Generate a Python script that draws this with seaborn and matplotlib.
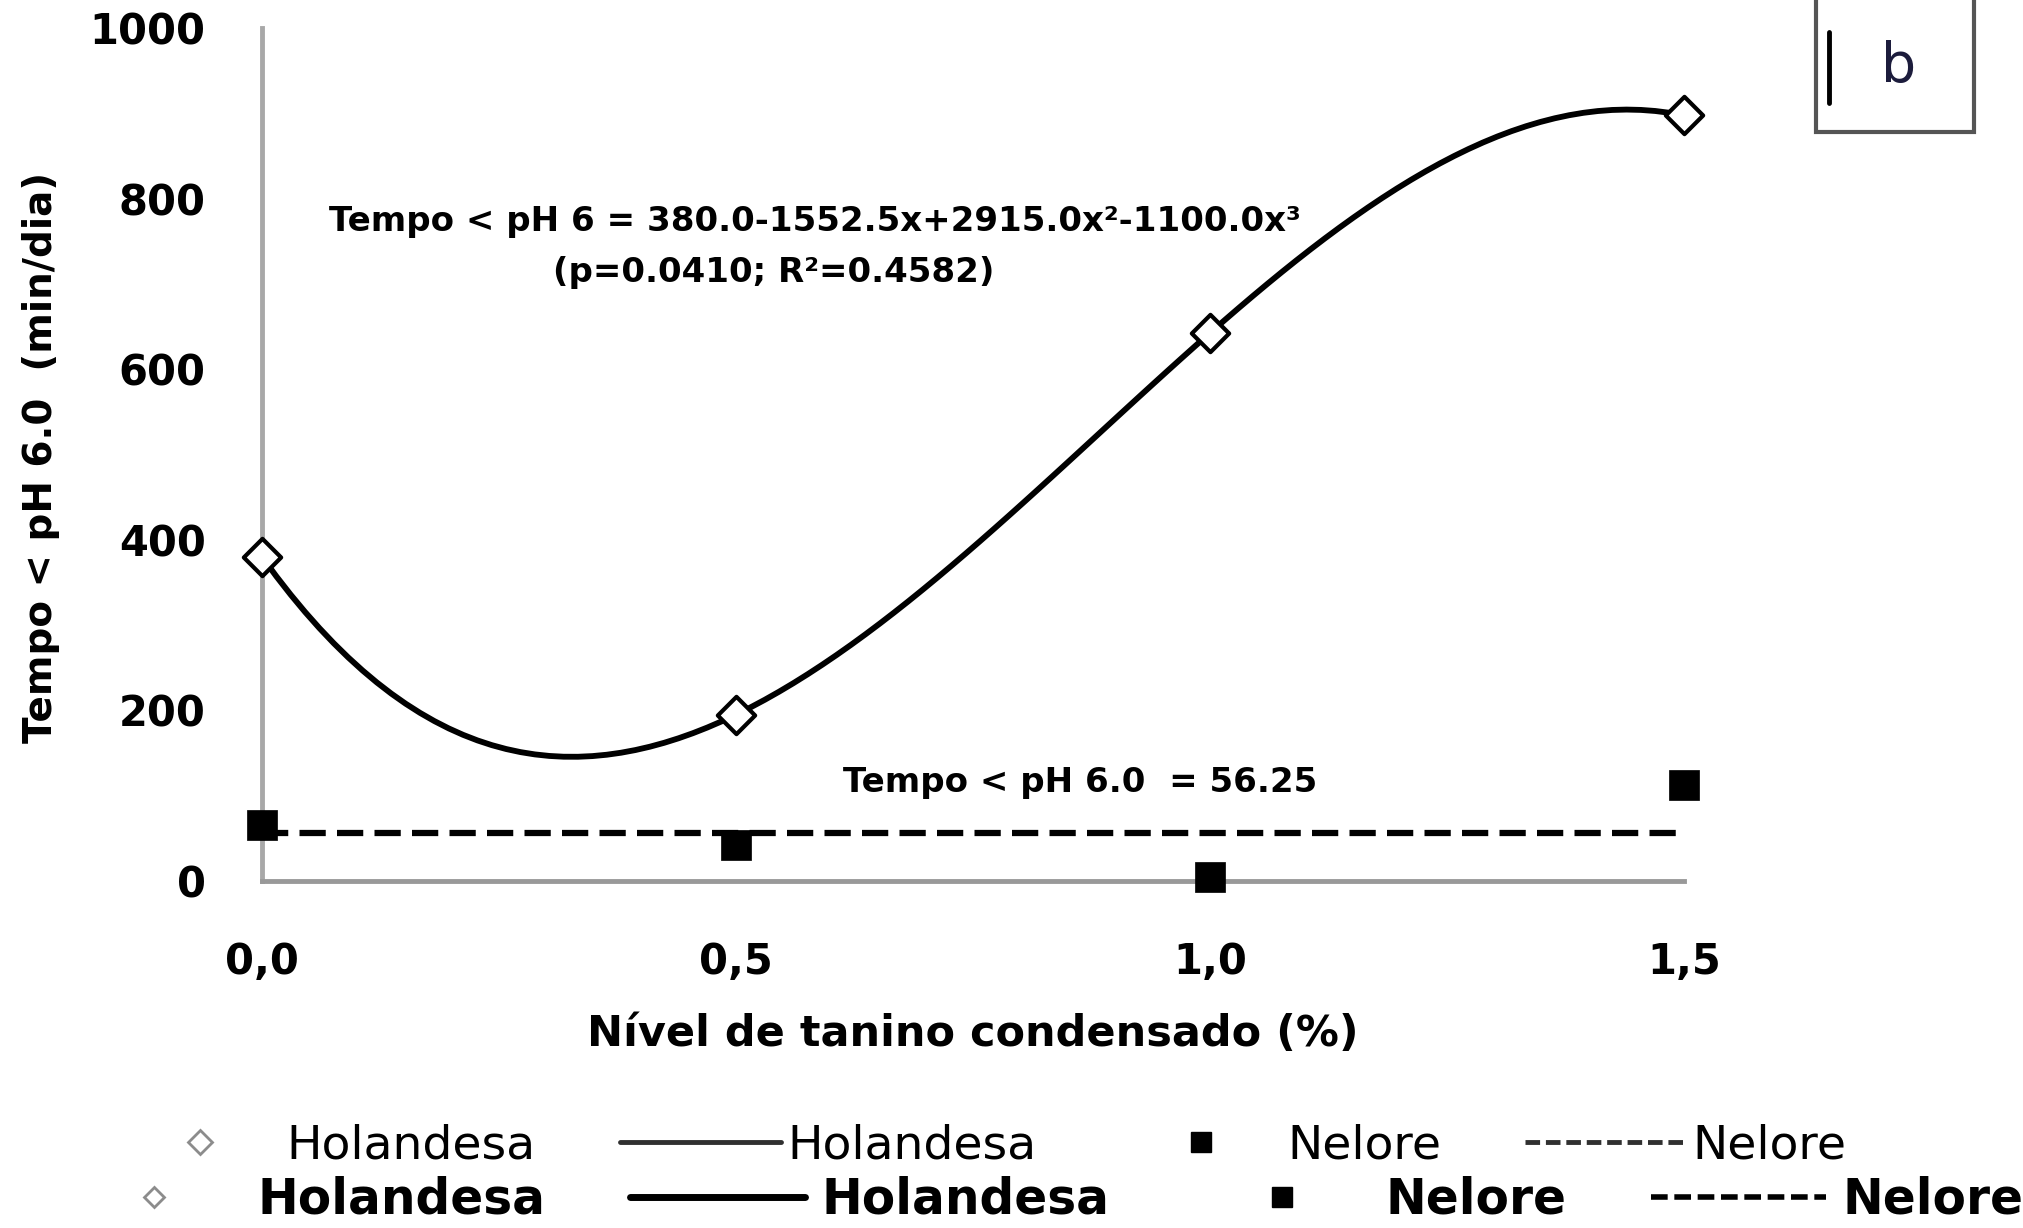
import numpy as np
import pandas as pd
import matplotlib
matplotlib.use('Agg')
import matplotlib.pyplot as plt
from matplotlib.lines import Line2D
from matplotlib.patches import Rectangle
import seaborn as sns

# ---------------- data ----------------
levels = [0.0, 0.5, 1.0, 1.5]
holandesa = [380.0, 195.0, 642.5, 897.5]
nelore = [66.0, 42.0, 5.0, 112.0]
nelore_mean = 56.25
x_ticks = [0.0, 0.5, 1.0, 1.5]
x_ticklabels = ['0,0', '0,5', '1,0', '1,5']
y_ticks = [0, 200, 400, 600, 800, 1000]
eq_holandesa = 'Tempo < pH 6 = 380.0-1552.5x+2915.0x²-1100.0x³'
stats_holandesa = '(p=0.0410; R²=0.4582)'
eq_nelore = 'Tempo < pH 6.0  = 56.25'
legend_labels = ['Holandesa', 'Holandesa', 'Nelore', 'Nelore']
x_title = 'Nível de tanino condensado (%)'
y_title = 'Tempo < pH 6.0  (min/dia)'
panel_letter = 'b'

sns.set_style('white')
plt.rcParams['font.family'] = ['DejaVu Sans']
plt.rcParams['text.color'] = 'black'
plt.rcParams['axes.labelcolor'] = 'black'
plt.rcParams['xtick.labelcolor'] = 'black'
plt.rcParams['ytick.labelcolor'] = 'black'

df_h = pd.DataFrame({'x': levels, 'y': holandesa})
df_n = pd.DataFrame({'x': levels, 'y': nelore})
df_nm = pd.DataFrame({'x': [levels[0], levels[-1]], 'y': [nelore_mean] * 2})

W, H = 2023, 1228
fig = plt.figure(figsize=(W / 100, H / 100), dpi=100)
ax = fig.add_axes([262 / W, 1 - 881 / H, (1684 - 262) / W, (881 - 28) / H])

# cubic fit through Holandesa means (regression line)
sns.regplot(data=df_h, x='x', y='y', order=3, ci=None, scatter=False, truncate=True,
            line_kws=dict(color='black', lw=4.2, zorder=3), ax=ax)
# Nelore mean line
sns.lineplot(data=df_nm, x='x', y='y', color='black', lw=4.5, linestyle=(0, (4.2, 1.8)),
             errorbar=None, ax=ax, zorder=2)
# points
sns.scatterplot(data=df_h, x='x', y='y', marker='D', s=19 ** 2, color='white',
                edgecolor='black', linewidth=3.0, ax=ax, zorder=5, clip_on=False)
sns.scatterplot(data=df_n, x='x', y='y', marker='s', s=21 ** 2, color='black',
                edgecolor='black', linewidth=0.5, ax=ax, zorder=5, clip_on=False)

ax.set_xlim(0, 1.5)
ax.set_ylim(0, 1000)
ax.set_xticks(x_ticks, x_ticklabels)
ax.set_yticks(y_ticks)
sns.despine(ax=ax)
ax.spines['left'].set_color('#a8a8a8')
ax.spines['left'].set_linewidth(3.5)
ax.spines['bottom'].set_color('#999999')
ax.spines['bottom'].set_linewidth(3.5)
ax.tick_params(direction='inout', length=11, width=2.5, color='#9a9a9a',
               labelcolor='black', labelsize=30)
ax.tick_params(axis='y', pad=35)
ax.tick_params(axis='x', pad=38)
for lab in ax.get_xticklabels() + ax.get_yticklabels():
    lab.set_fontweight('bold')

ax.set_xlabel(x_title, fontsize=31, fontweight='bold', color='black')
ax.xaxis.set_label_coords(0.5, (881 - 1013) / 853)
ax.set_ylabel(y_title, fontsize=28, fontweight='bold', color='black')
ax.yaxis.set_label_coords((60 - 262) / 1422, 0.496)

ax.text(0.583, 772.6, eq_holandesa, ha='center', va='center', fontsize=24.5, fontweight='bold')
ax.text(0.540, 712.8, stats_holandesa, ha='center', va='center', fontsize=24.5, fontweight='bold')
ax.text(0.863, 114.9, eq_nelore, ha='center', va='center', fontsize=24.5, fontweight='bold')

# panel letter box
fig.patches.append(Rectangle((1816 / W, 1 - 132 / H), (1974 - 1816) / W, 135 / H,
                             transform=fig.transFigure, facecolor='white',
                             edgecolor='#555555', lw=3))
fig.lines.append(Line2D([1829 / W, 1829 / W], [1 - 32 / H, 1 - 103 / H],
                        transform=fig.transFigure, color='black', lw=3.5))
fig.text(1899 / W, 1 - 67 / H, panel_letter, fontsize=40, ha='center', va='center',
         color='#1c1c3c')

# legends (two rows, as in the original)
h1 = [Line2D([], [], marker='D', ls='none', mfc='white', mec='#8c8c8c', ms=12, mew=2),
      Line2D([], [], color='#303030', lw=3.5),
      Line2D([], [], marker='s', ls='none', color='black', ms=15),
      Line2D([], [], color='#303030', lw=3.5, ls=(0, (3, 1.2)))]
fig.legend(h1, legend_labels, ncol=4, loc='center left',
           bbox_to_anchor=(119.5 / W, 1 - 1146 / H), frameon=False, fontsize=34,
           labelcolor='black',
           handlelength=3.41, handletextpad=0.13, columnspacing=1.78,
           borderpad=0, borderaxespad=0)
h2 = [Line2D([], [], marker='D', ls='none', mfc='white', mec='#8c8c8c', ms=10, mew=2),
      Line2D([], [], color='black', lw=5),
      Line2D([], [], marker='s', ls='none', color='black', ms=14),
      Line2D([], [], color='black', lw=4, ls=(0, (3, 1.2)))]
fig.legend(h2, legend_labels, ncol=4, loc='center left',
           bbox_to_anchor=(66 / W, 1 - 1200 / H), frameon=False,
           prop={'weight': 'bold', 'size': 35}, labelcolor='black',
           handlelength=3.6, handletextpad=0.33, columnspacing=1.75,
           borderpad=0, borderaxespad=0)

fig.savefig('out.png', dpi=100)
